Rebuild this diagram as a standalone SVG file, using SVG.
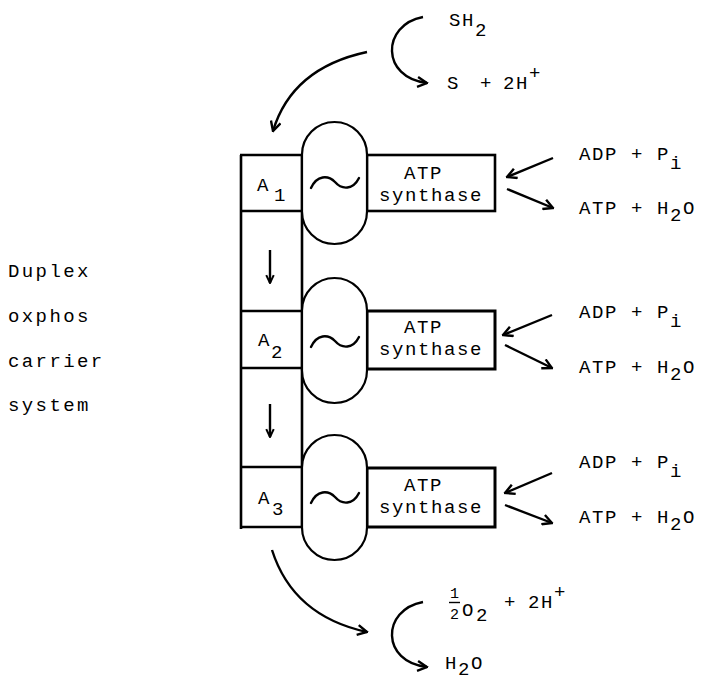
<svg xmlns="http://www.w3.org/2000/svg" width="701" height="682" viewBox="0 0 701 682">
<style>
text { font-family: "Liberation Mono", "DejaVu Sans Mono", monospace; font-size: 19px; fill: #000; }
.ls { letter-spacing: 1.6px; }
.lbl { letter-spacing: 2.4px; }
.box { fill: #fff; stroke: #000; stroke-width: 2.6; }
.pill { fill: #fff; stroke: #000; stroke-width: 2.2; }
.ln { fill: none; stroke: #000; stroke-width: 2.6; }
.wave { fill: none; stroke: #000; stroke-width: 2.4; stroke-linecap: round; }
.conn { fill: none; stroke: #000; stroke-width: 2.4; }
.small { font-size: 15px; }
</style>
<defs>
<marker id="arr" viewBox="0 0 12 12" refX="10.5" refY="6" markerWidth="12" markerHeight="12" markerUnits="userSpaceOnUse" orient="auto">
<path d="M1,1 L10.5,6 L1,11" fill="none" stroke="#000" stroke-width="2.4"/>
</marker>
<marker id="arrs" viewBox="0 0 12 12" refX="10.5" refY="6" markerWidth="10" markerHeight="10" markerUnits="userSpaceOnUse" orient="auto">
<path d="M1,1.5 L10.5,6 L1,10.5" fill="none" stroke="#000" stroke-width="2.4"/>
</marker>
</defs>
<rect x="0" y="0" width="701" height="682" fill="#fff"/>

<g id="system-label">
<text class="lbl" x="8" y="277">Duplex</text>
<text class="lbl" x="8" y="322">oxphos</text>
<text class="lbl" x="8" y="367">carrier</text>
<text class="lbl" x="8" y="411">system</text>
</g>

<g id="carrier-frame">
<line class="ln" x1="241" y1="155" x2="241" y2="529"/>
<line class="ln" x1="302" y1="155" x2="302" y2="527"/>
</g>

<g id="A1">
<line class="ln" x1="240" y1="155" x2="302" y2="155"/>
<line class="ln" x1="240" y1="211" x2="302" y2="211"/>
<text x="257" y="191">A</text><text x="274" y="201">1</text>
</g>
<g id="A2">
<line class="ln" x1="240" y1="311" x2="302" y2="311"/>
<line class="ln" x1="241" y1="368" x2="302" y2="368"/>
<text x="258" y="346">A</text><text x="271" y="358">2</text>
</g>
<g id="A3">
<line class="ln" x1="241" y1="467" x2="302" y2="467"/>
<line class="ln" x1="241" y1="527" x2="302" y2="527"/>
<text x="258" y="504">A</text><text x="272" y="515">3</text>
</g>

<g id="atp1">
<rect class="box" x="367" y="155" width="128" height="56"/>
<text class="ls" x="404" y="179">ATP</text>
<text class="ls" x="379" y="201">synthase</text>
</g>
<g id="atp2">
<rect class="box" x="367" y="311" width="128" height="58" style="stroke-width:3"/>
<text class="ls" x="404" y="333">ATP</text>
<text class="ls" x="379" y="355">synthase</text>
</g>
<g id="atp3">
<rect class="box" x="367" y="468" width="128" height="59" style="stroke-width:3"/>
<text class="ls" x="404" y="491">ATP</text>
<text class="ls" x="379" y="513">synthase</text>
</g>

<g id="pill1">
<rect class="pill" x="302" y="122" width="65" height="122" rx="32.5" ry="32.5"/>
<path class="wave" d="M311,188 C317,175 328,175 335,182 C342,190 353,190 359,178"/>
</g>
<g id="pill2">
<rect class="pill" x="302" y="278" width="65" height="125" rx="32.5" ry="32.5"/>
<path class="wave" d="M311,347 C317,334 328,334 335,341 C342,349 353,349 359,337"/>
</g>
<g id="pill3">
<rect class="pill" x="302" y="435" width="65" height="125" rx="32.5" ry="32.5"/>
<path class="wave" d="M311,503 C317,490 328,490 335,497 C342,505 353,505 359,493"/>
</g>

<g id="chem-top">
<text class="ls" x="449" y="26">SH<tspan dy="10">2</tspan></text>
<text x="447" y="89">S</text>
<text x="480" y="89">+</text>
<text class="ls" x="503" y="89">2H<tspan dy="-10">+</tspan></text>
</g>

<g id="chem-row1">
<text class="ls" x="579" y="160">ADP + P<tspan dy="9">i</tspan></text>
<text class="ls" x="579" y="214">ATP + H<tspan dy="7">2</tspan><tspan dy="-7">O</tspan></text>
</g>
<g id="chem-row2">
<text class="ls" x="579" y="318">ADP + P<tspan dy="9">i</tspan></text>
<text class="ls" x="579" y="373">ATP + H<tspan dy="7">2</tspan><tspan dy="-7">O</tspan></text>
</g>
<g id="chem-row3">
<text class="ls" x="579" y="468">ADP + P<tspan dy="9">i</tspan></text>
<text class="ls" x="579" y="523">ATP + H<tspan dy="7">2</tspan><tspan dy="-7">O</tspan></text>
</g>

<g id="chem-bottom">
<text class="small" x="450" y="598">1</text>
<line x1="449" y1="602.5" x2="460" y2="602.5" stroke="#000" stroke-width="1.4"/>
<text class="small" x="450" y="619">2</text>
<text x="462" y="616">O</text>
<text x="476" y="621">2</text>
<text x="504" y="608">+</text>
<text class="ls" x="528" y="608">2H<tspan dy="-10">+</tspan></text>
<text class="ls" x="445" y="669">H<tspan dy="6">2</tspan><tspan dy="-6">O</tspan></text>
</g>

<g id="connectors">
<path class="conn" d="M423,17 C381,25 381,78 427,83" marker-end="url(#arr)"/>
<path class="conn" d="M367,52 Q292,68 273,131" marker-end="url(#arr)"/>
<path class="conn" d="M272,550 Q293,616 367,632" marker-end="url(#arr)"/>
<path class="conn" d="M423,602 C381,610 381,662 427,667" marker-end="url(#arr)"/>
<path class="conn" d="M270,250 L270,283" marker-end="url(#arrs)"/>
<path class="conn" d="M270,404 L270,437" marker-end="url(#arrs)"/>
<path class="conn" d="M553,158 L507,177" marker-end="url(#arr)"/>
<path class="conn" d="M507,189 L553,208" marker-end="url(#arr)"/>
<path class="conn" d="M552,315 L503,335" marker-end="url(#arr)"/>
<path class="conn" d="M505,345 L552,368" marker-end="url(#arr)"/>
<path class="conn" d="M552,473 L505,493" marker-end="url(#arr)"/>
<path class="conn" d="M505,505 L552,523" marker-end="url(#arr)"/>
</g>
</svg>
